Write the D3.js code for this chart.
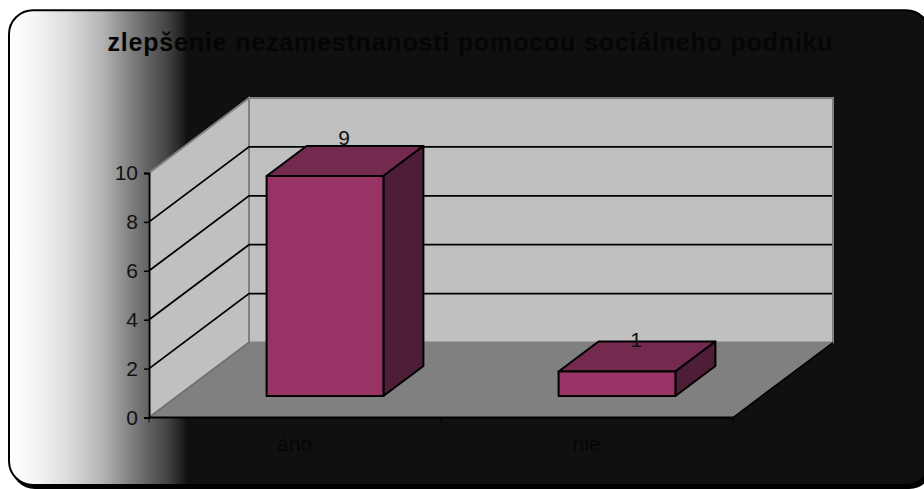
<!DOCTYPE html>
<html>
<head>
<meta charset="utf-8">
<script src="https://cdn.jsdelivr.net/npm/d3@7"></script>
<style>
html,body{margin:0;padding:0;background:#fff;}
svg{display:block;}
text{font-family:"Liberation Sans",Arial,sans-serif;}
</style>
</head>
<body>
<svg id="chart" width="924" height="489"></svg>
<script>
const chartTitle = "zlepšenie nezamestnanosti pomocou sociálneho podniku";
const categories = ["áno", "nie"];
const values = [9, 1];
const yTicks = [0, 2, 4, 6, 8, 10];

const svg = d3.select("#chart");

// Horizontal fade of the panel fill, stops given in pixels across the page
const fadeStart = 9, fadeEnd = 924;
const defs = svg.append("defs");
const grad = defs.append("linearGradient").attr("id", "panelFill")
  .attr("gradientUnits", "userSpaceOnUse")
  .attr("x1", fadeStart).attr("x2", fadeEnd).attr("y1", 0).attr("y2", 0);
[[9, "#ffffff"], [33, "#f6f6f6"], [67, "#dcdcdc"], [100, "#b8b8b8"], [133, "#7c7c7c"],
 [167, "#444444"], [183, "#1e1e1e"], [187, "#101010"], [924, "#101010"]]
  .forEach(([px, c]) => grad.append("stop")
    .attr("offset", (px - fadeStart) / (fadeEnd - fadeStart)).attr("stop-color", c));

// Panel with a drop shadow offset to the lower right
svg.append("rect").attr("x", 11).attr("y", 12).attr("width", 922).attr("height", 477)
  .attr("rx", 24).attr("fill", "#000");
svg.append("rect").attr("x", 9).attr("y", 10.3).attr("width", 921).attr("height", 474.7)
  .attr("rx", 24).attr("fill", "url(#panelFill)").attr("stroke", "#000").attr("stroke-width", 2);

// Plot geometry
const depth = { dx: 100, dy: -75 };
const x = d3.scaleBand().domain(categories).range([149, 733]).paddingInner(0.6).paddingOuter(0.3);
const y = d3.scaleLinear().domain([0, 10]).range([417.5, 173]);
const barDepth = { dx: 40, dy: -30, shiftX: 30, shiftY: -21.5 };

const x0 = x.range()[0], x1 = x.range()[1];
const y0 = y(0), yTop = y(10);
const pts = a => a.map(p => p.join(",")).join(" ");

// Side wall
svg.append("polygon")
  .attr("points", pts([[x0, y0], [x0 + depth.dx, y0 + depth.dy], [x0 + depth.dx, yTop + depth.dy], [x0, yTop]]))
  .attr("fill", "#c0c0c0").attr("stroke", "#808080").attr("stroke-width", 2);
// Back wall
svg.append("rect")
  .attr("x", x0 + depth.dx).attr("y", yTop + depth.dy)
  .attr("width", x1 - x0).attr("height", y0 - yTop)
  .attr("fill", "#c0c0c0").attr("stroke", "#808080").attr("stroke-width", 2);
// Floor
svg.append("polygon")
  .attr("points", pts([[x0, y0], [x1, y0], [x1 + depth.dx, y0 + depth.dy], [x0 + depth.dx, y0 + depth.dy]]))
  .attr("fill", "#808080");
svg.append("line")
  .attr("x1", x0).attr("y1", y0).attr("x2", x0 + depth.dx).attr("y2", y0 + depth.dy)
  .attr("stroke", "#6e6e6e").attr("stroke-width", 1.5);
svg.append("line")
  .attr("x1", x1).attr("y1", y0).attr("x2", x1 + depth.dx).attr("y2", y0 + depth.dy)
  .attr("stroke", "#000").attr("stroke-width", 1.5);

// Gridlines run along the side wall and across the back wall
yTicks.filter(t => t > 0 && t < 10).forEach(t => {
  const yy = y(t);
  svg.append("polyline")
    .attr("points", pts([[x0, yy], [x0 + depth.dx, yy + depth.dy], [x1 + depth.dx - 1, yy + depth.dy]]))
    .attr("fill", "none").attr("stroke", "#000").attr("stroke-width", 1.8);
});

// Value axis
const yAxis = d3.axisLeft(y).tickValues(yTicks).tickSize(5).tickPadding(6);
const gy = svg.append("g").attr("transform", `translate(${x0},0)`).call(yAxis);
gy.select(".domain").attr("stroke", "#000").attr("stroke-width", 2);
gy.selectAll(".tick line").attr("stroke", "#000").attr("stroke-width", 1.5);
gy.selectAll("text").attr("font-size", 21).attr("fill", "#111")
  .style("font-family", '"Liberation Sans",Arial,sans-serif');

// Category axis baseline, ticks and labels
svg.append("line").attr("x1", x0).attr("x2", x1).attr("y1", y0).attr("y2", y0)
  .attr("stroke", "#000").attr("stroke-width", 2.2);
[x0, x0 + x.step(), x1].forEach(v => {
  svg.append("line").attr("x1", v).attr("x2", v).attr("y1", y0).attr("y2", y0 + 5)
    .attr("stroke", "#000").attr("stroke-width", 1);
});
svg.selectAll(".cat").data(categories).join("text").attr("class", "cat")
  .attr("x", d => x(d) + x.bandwidth() / 2 - 0.5)
  .attr("y", 451)
  .attr("text-anchor", "middle").attr("font-size", 21).attr("fill", "#050505")
  .text(d => d);

// 3-D columns
const bars = svg.selectAll(".bar").data(categories.map((c, i) => ({ c, v: values[i] })))
  .join("g").attr("class", "bar");
const fx = d => x(d.c) + barDepth.shiftX;
const bw = x.bandwidth();
const bBase = y(0) + barDepth.shiftY;
const bTop = d => bBase - (y(0) - y(d.v));

bars.append("polygon")
  .attr("points", d => pts([[fx(d), bTop(d)], [fx(d) + bw, bTop(d)],
    [fx(d) + bw + barDepth.dx, bTop(d) + barDepth.dy], [fx(d) + barDepth.dx, bTop(d) + barDepth.dy]]))
  .attr("fill", "#74294f");
bars.append("polygon")
  .attr("points", d => pts([[fx(d) + bw, bTop(d)], [fx(d) + bw + barDepth.dx, bTop(d) + barDepth.dy],
    [fx(d) + bw + barDepth.dx, bBase + barDepth.dy], [fx(d) + bw, bBase]]))
  .attr("fill", "#4e1d36");
bars.append("rect")
  .attr("x", fx).attr("y", bTop).attr("width", bw).attr("height", d => bBase - bTop(d))
  .attr("fill", "#993366");
bars.selectAll("polygon,rect").attr("stroke", "#000").attr("stroke-width", 2)
  .attr("stroke-linejoin", "round");

// Value labels above the columns; the short column's label sits a little lower
bars.append("text")
  .attr("x", d => fx(d) + bw / 2 + 19)
  .attr("y", d => bTop(d) - (d.v > 5 ? 31 : 25))
  .attr("text-anchor", "middle").attr("font-size", 21).attr("fill", "#111")
  .text(d => d.v);

// Title
svg.append("text").attr("x", 470).attr("y", 51)
  .attr("text-anchor", "middle").attr("font-size", 25).attr("font-weight", "bold")
  .attr("fill", "#050505").attr("textLength", 725).attr("lengthAdjust", "spacing")
  .text(chartTitle);
</script>
</body>
</html>
